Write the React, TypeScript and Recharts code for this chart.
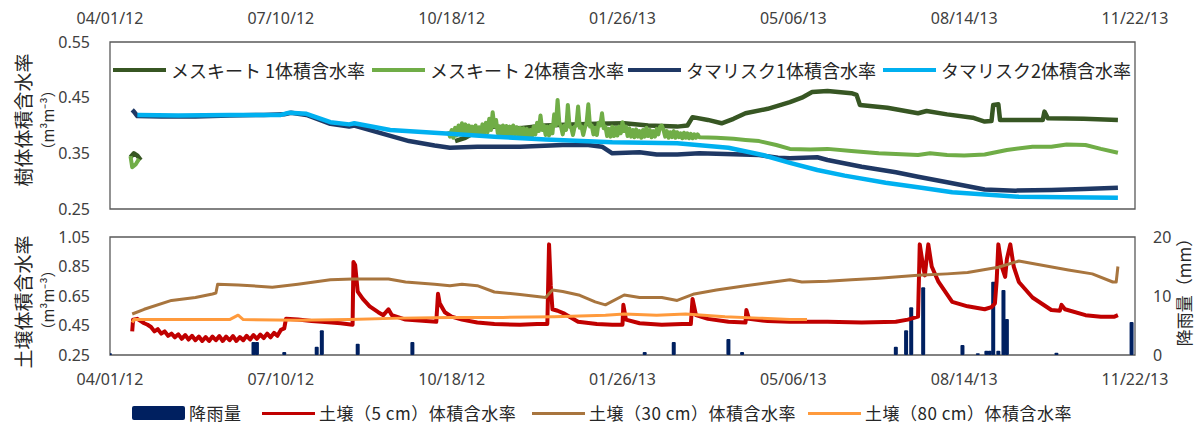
import React from "react";
import { LineChart, ComposedChart, Line, Bar, XAxis, YAxis, ReferenceArea } from "recharts";

// x positions are days since 04/01/12, ticks every 100 days
const TICK_DAYS = [0, 100, 200, 300, 400, 500, 600];
const TICK_LABELS = ["04/01/12", "07/10/12", "10/18/12", "01/26/13", "05/06/13", "08/14/13", "11/22/13"];

const TOP_TICKS = [0.25, 0.35, 0.45, 0.55];
const SOIL_TICKS = [0.25, 0.45, 0.65, 0.85, 1.05];
const RAIN_TICKS = [0, 10, 20];

type Pt = [number, number | null];

const MESQUITE1: Pt[] = [
  [12, 0.343], [14, 0.35], [16, 0.346], [18, 0.338], [19, null],
  [202, 0.372], [208, 0.378], [215, 0.39], [225, 0.398], [240, 0.395], [255, 0.4], [270, 0.402],
  [285, 0.403], [301, 0.404], [315, 0.4], [332, 0.398], [338, 0.4], [341, 0.415], [350, 0.41],
  [358, 0.404], [365, 0.412], [372, 0.422], [385, 0.43], [398, 0.442], [405, 0.45], [411, 0.46],
  [420, 0.462], [434, 0.458], [437, 0.455], [439, 0.437], [455, 0.432], [473, 0.422], [478, 0.426],
  [490, 0.42], [505, 0.414], [512, 0.407], [516, 0.408], [517, 0.437], [520, 0.438], [521, 0.41],
  [535, 0.41], [546, 0.41], [547, 0.425], [549, 0.413], [570, 0.412], [590, 0.41],
];

const MESQUITE2: Pt[] = [
  [12, 0.345], [13, 0.325], [15, 0.33], [17, 0.34], [18, null],
  [198, 0.39], [199, 0.38], [200, 0.392], [201, 0.378], [202, 0.396], [203, 0.382], [204, 0.4], [205, 0.384], [206, 0.404], [207, 0.386],
  [208, 0.402], [209, 0.384], [210, 0.4], [211, 0.385], [212, 0.398], [213, 0.383], [214, 0.4], [215, 0.384], [216, 0.397], [217, 0.383],
  [218, 0.402], [219, 0.386], [220, 0.405], [221, 0.388], [222, 0.412], [223, 0.392], [224, 0.424], [225, 0.398], [226, 0.41], [227, 0.386],
  [228, 0.398], [229, 0.383], [230, 0.4], [231, 0.384], [232, 0.399], [233, 0.382], [234, 0.398], [235, 0.383], [236, 0.4], [237, 0.384],
  [238, 0.397], [239, 0.382], [240, 0.396], [241, 0.381], [242, 0.395], [243, 0.381], [244, 0.394], [245, 0.38], [246, 0.392], [247, 0.381],
  [248, 0.398], [249, 0.384], [250, 0.405], [251, 0.39], [252, 0.418], [253, 0.392], [254, 0.4], [255, 0.383], [256, 0.398], [257, 0.382],
  [258, 0.4], [259, 0.386], [260, 0.42], [261, 0.4], [262, 0.446], [263, 0.405], [264, 0.398], [265, 0.384], [266, 0.4], [267, 0.392],
  [268, 0.437], [269, 0.398], [270, 0.396], [271, 0.383], [272, 0.398], [273, 0.4], [274, 0.434], [275, 0.396], [276, 0.398], [277, 0.383],
  [278, 0.396], [279, 0.405], [280, 0.438], [281, 0.398], [282, 0.4], [283, 0.384], [284, 0.396], [285, 0.383], [286, 0.405], [287, 0.4],
  [288, 0.422], [289, 0.395], [290, 0.398], [291, 0.381], [292, 0.394], [293, 0.38], [294, 0.398], [295, 0.381], [296, 0.396], [297, 0.382],
  [298, 0.398], [299, 0.386], [300, 0.406], [301, 0.39], [302, 0.398], [303, 0.381], [304, 0.395], [305, 0.38], [306, 0.392], [307, 0.379],
  [308, 0.393], [309, 0.38], [310, 0.39], [311, 0.378], [312, 0.392], [313, 0.38], [314, 0.396], [315, 0.381], [316, 0.392], [317, 0.379],
  [318, 0.39], [319, 0.38], [320, 0.394], [321, 0.384], [322, 0.398], [323, 0.4], [324, 0.392], [325, 0.38], [326, 0.39], [327, 0.378],
  [328, 0.388], [329, 0.379], [330, 0.39], [331, 0.378], [332, 0.388], [333, 0.379], [334, 0.386], [335, 0.377], [336, 0.387], [337, 0.378],
  [338, 0.386], [339, 0.377], [340, 0.385], [341, 0.377], [342, 0.384], [343, 0.378], [344, 0.384], [345, 0.379],
  [355, 0.378], [365, 0.376], [372, 0.374], [380, 0.372], [390, 0.365], [398, 0.358], [410, 0.357], [420, 0.358],
  [434, 0.354], [450, 0.35], [460, 0.349], [473, 0.347], [480, 0.35], [490, 0.347], [500, 0.346], [512, 0.348],
  [525, 0.356], [540, 0.362], [551, 0.362], [560, 0.366], [571, 0.365], [580, 0.358], [590, 0.351],
];

const TAMARISK1: Pt[] = [
  [13, 0.428], [14, 0.425], [16, 0.417], [30, 0.416], [50, 0.416], [70, 0.418], [90, 0.419],
  [102, 0.42], [106, 0.423], [115, 0.419], [129, 0.403], [140, 0.398], [143, 0.4], [160, 0.385],
  [175, 0.372], [190, 0.364], [199, 0.36], [215, 0.362], [240, 0.362], [265, 0.365], [280, 0.365],
  [288, 0.362], [294, 0.35], [310, 0.352], [320, 0.348], [332, 0.348], [345, 0.35], [360, 0.349],
  [380, 0.347], [391, 0.342], [398, 0.341], [414, 0.343], [420, 0.338], [440, 0.326], [460, 0.316],
  [473, 0.308], [490, 0.298], [512, 0.285], [530, 0.283], [551, 0.284], [570, 0.286], [590, 0.288],
];

const TAMARISK2: Pt[] = [
  [16, 0.419], [40, 0.418], [70, 0.419], [100, 0.419], [105, 0.423], [115, 0.421], [129, 0.406],
  [140, 0.402], [143, 0.404], [164, 0.392], [199, 0.385], [225, 0.38], [255, 0.375], [294, 0.37],
  [332, 0.368], [362, 0.36], [382, 0.347], [398, 0.333], [414, 0.32], [430, 0.31], [454, 0.297],
  [475, 0.288], [493, 0.28], [532, 0.272], [560, 0.271], [590, 0.27],
];

const SOIL5: Pt[] = [
  [13, 0.41], [13.5, 0.49], [16, 0.495], [20, 0.465], [22, 0.455], [24, 0.44], [26, 0.41], [28, 0.425],
  [30, 0.395], [32, 0.41], [34, 0.38], [36, 0.395], [38, 0.37], [40, 0.39], [42, 0.36], [44, 0.385],
  [46, 0.355], [48, 0.38], [50, 0.35], [52, 0.375], [54, 0.345], [56, 0.372], [58, 0.345], [60, 0.375],
  [62, 0.35], [64, 0.378], [66, 0.345], [68, 0.375], [70, 0.35], [72, 0.378], [74, 0.345], [76, 0.372],
  [78, 0.35], [80, 0.38], [82, 0.355], [84, 0.385], [86, 0.36], [88, 0.388], [90, 0.365], [92, 0.395],
  [94, 0.37], [96, 0.4], [98, 0.38], [100, 0.42], [102, 0.43], [103, 0.495], [110, 0.49],
  [118, 0.48], [124, 0.475], [135, 0.465], [142, 0.455], [142.5, 0.88], [143.5, 0.86], [145, 0.68],
  [148, 0.63], [152, 0.58], [157, 0.54], [160, 0.52], [163, 0.56], [165, 0.52], [173, 0.49], [185, 0.48],
  [191, 0.475], [192, 0.665], [193, 0.6], [196, 0.54], [200, 0.51], [206, 0.49], [215, 0.47], [225, 0.46],
  [240, 0.455], [250, 0.46], [256, 0.46], [257, 1.0], [258, 0.72], [259, 0.56], [262, 0.55], [266, 0.53],
  [274, 0.475], [285, 0.46], [294, 0.455], [300, 0.455], [300.5, 0.59], [302, 0.49], [310, 0.465],
  [323, 0.455], [335, 0.46], [340, 0.46], [341, 0.63], [343, 0.52], [350, 0.495], [362, 0.475],
  [372, 0.47], [372.5, 0.555], [374, 0.495], [385, 0.48], [398, 0.475], [420, 0.475], [440, 0.47],
  [460, 0.475], [467, 0.49], [473, 0.51], [474, 1.0], [476, 0.85], [477, 0.79], [478, 0.9], [479, 1.0],
  [481, 0.85], [485, 0.745], [493, 0.61], [502, 0.58], [512, 0.56], [516, 0.575], [518, 0.6], [519, 0.75],
  [520, 1.0], [522, 0.85], [524, 0.78], [525, 0.9], [527, 1.0], [529, 0.85], [532, 0.745], [540, 0.64],
  [551, 0.555], [556, 0.55], [557, 0.59], [559, 0.56], [571, 0.52], [580, 0.51], [588, 0.51], [590, 0.52],
];

const SOIL30: Pt[] = [
  [13, 0.528], [20, 0.56], [36, 0.62], [50, 0.64], [60, 0.664], [62, 0.67], [63, 0.73], [75, 0.725],
  [95, 0.71], [110, 0.73], [129, 0.76], [142, 0.765], [150, 0.765], [163, 0.765], [173, 0.745],
  [190, 0.73], [199, 0.72], [206, 0.73], [215, 0.72], [225, 0.677], [240, 0.66], [255, 0.64],
  [259, 0.69], [265, 0.68], [275, 0.655], [284, 0.61], [290, 0.59], [301, 0.657], [310, 0.64],
  [323, 0.64], [332, 0.62], [342, 0.664], [355, 0.69], [372, 0.72], [385, 0.74], [398, 0.76],
  [405, 0.745], [420, 0.75], [434, 0.76], [450, 0.77], [473, 0.79], [490, 0.8], [502, 0.81],
  [520, 0.845], [532, 0.887], [540, 0.87], [561, 0.826], [575, 0.8], [587, 0.745], [589, 0.745], [590, 0.85],
];

const SOIL80: Pt[] = [
  [13, 0.47], [14, 0.49], [40, 0.49], [70, 0.49], [75, 0.52], [78, 0.49], [110, 0.485], [140, 0.49],
  [170, 0.5], [199, 0.505], [230, 0.505], [260, 0.51], [290, 0.52], [301, 0.528], [320, 0.52],
  [337, 0.528], [360, 0.51], [380, 0.5], [398, 0.49], [408, 0.49],
];

const RAIN: Pt[] = [
  [0, 0.3], [84, 2.2], [86, 2.2], [102, 0.5], [121, 1.4], [124, 4.2], [145, 1.9], [177, 2.2],
  [313, 0.5], [330, 2.2], [362, 2.7], [370, 0.5], [460, 1.4], [466, 4.2], [469, 8.1], [476, 11.5],
  [499, 1.7], [508, 0.3], [513, 0.7], [515, 0.7], [517, 12.4], [520, 0.7], [523, 11], [525, 6.1],
  [554, 0.4], [598, 5.6],
];

const TOP_NAMES = ["メスキート 1体積含水率", "メスキート 2体積含水率", "タマリスク1体積含水率", "タマリスク2体積含水率"];
const TOP_COLORS = ["#375623", "#70AD47", "#1F3864", "#00B0F0"];
const BOTTOM_NAMES = ["降雨量", "土壌（5 cm）体積含水率", "土壌（30 cm）体積含水率", "土壌（80 cm）体積含水率"];
const BOTTOM_COLORS = ["#002060", "#C00000", "#A8753E", "#FF9A3C"];

const rows = (pts: Pt[], key: string) => pts.map(([d, v]) => ({ d, [key]: v }));

const TICK_STYLE = { fontSize: 16, fill: "#404040", fontFamily: "'Noto Sans', sans-serif" };
const JP_FONT = "'Noto Sans CJK JP', sans-serif";
const FRAME = "#595959";
const dayLabel = (d: number) => TICK_LABELS[TICK_DAYS.indexOf(d)] ?? "";

const RainShape = (p: any) => {
  if (!p || !isFinite(p.height) || p.height <= 0) return <g />;
  const cx = p.x + p.width / 2;
  return <rect x={cx - 2} y={p.y} width={4} height={p.height} rx={1} fill={BOTTOM_COLORS[0]} />;
};

const LEG_TOP_X = [113, 372, 628, 883];
const LEG_BOT_X = [132, 262, 532, 808];

export default function App() {
  const topSeries = [MESQUITE1, MESQUITE2, TAMARISK1, TAMARISK2];
  const soilSeries = [SOIL5, SOIL30, SOIL80];
  return (
    <div style={{ position: "absolute", left: 0, top: 0, width: 1201, height: 426, background: "#fff", overflow: "hidden" }}>
      <div style={{ position: "absolute", left: 0, top: 0 }}>
        <LineChart width={1201} height={220} margin={{ top: 0, right: 66, bottom: 11, left: 0 }}>
          <XAxis
            xAxisId="t" dataKey="d" type="number" orientation="top" domain={[0, 600]} ticks={TICK_DAYS}
            tickFormatter={dayLabel} height={42} tickSize={0} tickMargin={18} axisLine={false} tickLine={false}
            tick={TICK_STYLE} allowDataOverflow
          />
          <YAxis
            domain={[0.25, 0.55]} ticks={TOP_TICKS} width={110} tickSize={0} tickMargin={20}
            axisLine={false} tickLine={false} tick={TICK_STYLE} tickFormatter={(v: number) => v.toFixed(2)} allowDataOverflow
          />
          <ReferenceArea xAxisId="t" x1={0} x2={600} y1={0.25} y2={0.55} fill="none" stroke={FRAME} strokeWidth={1.3} />
          {topSeries.map((s, i) => (
            <Line
              key={i} xAxisId="t" data={rows(s, "s" + i)} dataKey={"s" + i} type="linear" stroke={TOP_COLORS[i]}
              strokeWidth={i === 1 ? 4 : 4.5} dot={false} activeDot={false} connectNulls={false} isAnimationActive={false}
              strokeLinejoin="round"
            />
          ))}
        </LineChart>
      </div>
      <div style={{ position: "absolute", left: 0, top: 220 }}>
        <ComposedChart width={1201} height={206} data={rows(RAIN, "rain")} margin={{ top: 17, right: 0, bottom: 41, left: 0 }}>
          <XAxis
            dataKey="d" type="number" domain={[0, 600]} ticks={TICK_DAYS} tickFormatter={dayLabel} height={30}
            tickSize={0} tickMargin={19} axisLine={false} tickLine={false} tick={TICK_STYLE} allowDataOverflow
          />
          <YAxis
            yAxisId="l" domain={[0.25, 1.05]} ticks={SOIL_TICKS} width={110} tickSize={0} tickMargin={20}
            axisLine={false} tickLine={false} tick={TICK_STYLE} tickFormatter={(v: number) => v.toFixed(2)} allowDataOverflow
          />
          <YAxis
            yAxisId="r" orientation="right" domain={[0, 20]} ticks={RAIN_TICKS} width={66} tickSize={0} tickMargin={18}
            axisLine={false} tickLine={false} tick={{ ...TICK_STYLE, textAnchor: "start" }} allowDataOverflow
          />
          <ReferenceArea yAxisId="l" x1={0} x2={600} y1={0.25} y2={1.05} fill="none" stroke={FRAME} strokeWidth={1.3} />
          <Bar yAxisId="r" dataKey="rain" shape={RainShape} isAnimationActive={false} />
          {soilSeries.map((s, i) => (
            <Line
              key={i} yAxisId="l" data={rows(s, "w" + i)} dataKey={"w" + i} type="linear" stroke={BOTTOM_COLORS[i + 1]}
              strokeWidth={i === 0 ? 4 : 3} dot={false} activeDot={false} isAnimationActive={false} strokeLinejoin="round"
            />
          ))}
        </ComposedChart>
      </div>

      <svg width={1201} height={426} style={{ position: "absolute", left: 0, top: 0, pointerEvents: "none" }}>
        <g fontFamily={JP_FONT} fill="#262626">
          <text x={22} y={120} fontSize={19} textAnchor="middle" dominantBaseline="central" transform="rotate(-90 22 120)">樹体体積含水率</text>
          <text x={47} y={120} fontSize={15} textAnchor="middle" dominantBaseline="central" transform="rotate(-90 47 120)">（m³m⁻³）</text>
          <text x={22} y={302} fontSize={19} textAnchor="middle" dominantBaseline="central" transform="rotate(-90 22 302)">土壌体積含水率</text>
          <text x={47} y={300} fontSize={15} textAnchor="middle" dominantBaseline="central" transform="rotate(-90 47 300)">（m³m⁻³）</text>
          <text x={1183} y={288} fontSize={17} textAnchor="middle" dominantBaseline="central" transform="rotate(-90 1183 288)">降雨量（mm）</text>
        </g>
      </svg>

      {TOP_NAMES.map((n, i) => (
        <div key={n} style={{ position: "absolute", left: LEG_TOP_X[i], top: 60, height: 20, lineHeight: "20px", display: "flex", alignItems: "center", fontFamily: JP_FONT, fontSize: 18, color: "#262626", whiteSpace: "nowrap" }}>
          <span style={{ display: "inline-block", width: 53, height: 4, background: TOP_COLORS[i], marginRight: 5 }} />
          {n}
        </div>
      ))}
      {BOTTOM_NAMES.map((n, i) => (
        <div key={n} style={{ position: "absolute", left: LEG_BOT_X[i], top: 403, height: 20, lineHeight: "20px", display: "flex", alignItems: "center", fontFamily: JP_FONT, fontSize: 17, letterSpacing: 0.5, color: "#262626", whiteSpace: "nowrap" }}>
          <span style={{ display: "inline-block", width: 53, height: i === 0 ? 14 : 3, background: BOTTOM_COLORS[i], marginRight: 4, borderRadius: i === 0 ? 2 : 0 }} />
          {n}
        </div>
      ))}
    </div>
  );
}
